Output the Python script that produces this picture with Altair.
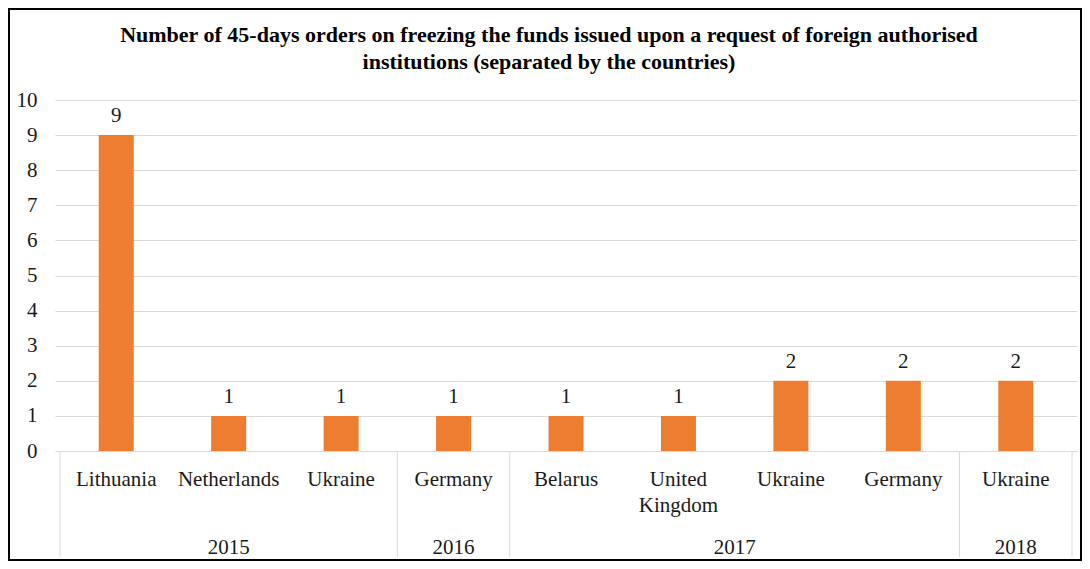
import altair as alt
import pandas as pd

countries = ["Lithuania", "Netherlands", "Ukraine", "Germany", "Belarus",
             "United Kingdom", "Ukraine", "Germany", "Ukraine"]
years = ["2015", "2015", "2015", "2016", "2017", "2017", "2017", "2017", "2018"]
orders = [9, 1, 1, 1, 1, 1, 2, 2, 2]
y_ticks = [0, 1, 2, 3, 4, 5, 6, 7, 8, 9, 10]

title_lines = ["Number of 45-days orders on freezing the funds issued upon a request of foreign authorised",
               "institutions (separated by the countries)"]

df = pd.DataFrame({"idx": list(range(len(countries))), "country": countries,
                   "year": years, "orders": orders})

g = df.groupby("year", sort=False)["idx"].agg(["min", "max"]).reset_index()
g["mid"] = (g["min"] + g["max"]) / 2
g["start"] = g["min"] - 0.5
g["end"] = g["max"] + 0.5
sep_pos = list(g["start"]) + [g["end"].iloc[-1]]
seps = pd.DataFrame({"pos": sep_pos})
tdf = pd.DataFrame({"t": ["\n".join(title_lines)]})

FONT = "'Liberation Serif', 'Times New Roman', serif"
FS = 21
W, H = 1022, 351
xscale = alt.Scale(domain=[-0.5, len(countries) - 0.5], nice=False, zero=False)
xenc = lambda f: alt.X(f"{f}:Q", scale=xscale, axis=None)
yaxis = alt.Axis(values=y_ticks, title=None, grid=True, gridColor="#D9D9D9",
                 ticks=False, domain=False, labelFont=FONT, labelFontSize=FS,
                 labelColor="#1a1a1a", labelPadding=18, labelOverlap=False)
yscale = alt.Scale(domain=[0, 10], nice=False)
yenc = alt.Y("orders:Q", scale=yscale, axis=yaxis)

base = alt.Chart(df)

bars = base.mark_bar(color="#ED7D31", size=35).encode(x=xenc("idx"), y=yenc)

vals = base.mark_text(font=FONT, fontSize=FS, color="#1a1a1a", baseline="alphabetic",
                      dy=-13).encode(x=xenc("idx"), y=yenc, text="orders:Q")

clabels = base.mark_text(font=FONT, fontSize=FS, color="#1a1a1a", baseline="alphabetic",
                         lineBreak=" ", lineHeight=26).encode(
    x=xenc("idx"), y=alt.value(H + 35), text="country:N")

ylabels = alt.Chart(g).mark_text(font=FONT, fontSize=FS, color="#1a1a1a",
                                 baseline="alphabetic").encode(
    x=xenc("mid"), y=alt.value(H + 103), text="year:N")

seprules = alt.Chart(seps).mark_rule(color="#D9D9D9", strokeWidth=1).encode(
    x=xenc("pos"), y=alt.value(H), y2=alt.value(H + 106))

title = alt.Chart(tdf).mark_text(font=FONT, fontSize=22, fontWeight="bold", color="#000000",
                                 baseline="alphabetic", lineBreak="\n", lineHeight=27).encode(
    x=alt.value(494), y=alt.value(-58), text="t:N")

frame = alt.Chart(tdf).mark_rect(fill=None, stroke="#000000", strokeWidth=2).encode(
    x=alt.value(-46), x2=alt.value(1026), y=alt.value(-91), y2=alt.value(460))

chart = alt.layer(seprules, bars, vals, clabels, ylabels, title, frame).properties(
    width=W, height=H,
    autosize=alt.AutoSizeParams(type="none"),
    padding={"left": 47, "top": 92, "right": 5, "bottom": 110},
).configure_view(stroke=None)

chart.save("out.html", embed_options={"renderer": "svg", "actions": False})
